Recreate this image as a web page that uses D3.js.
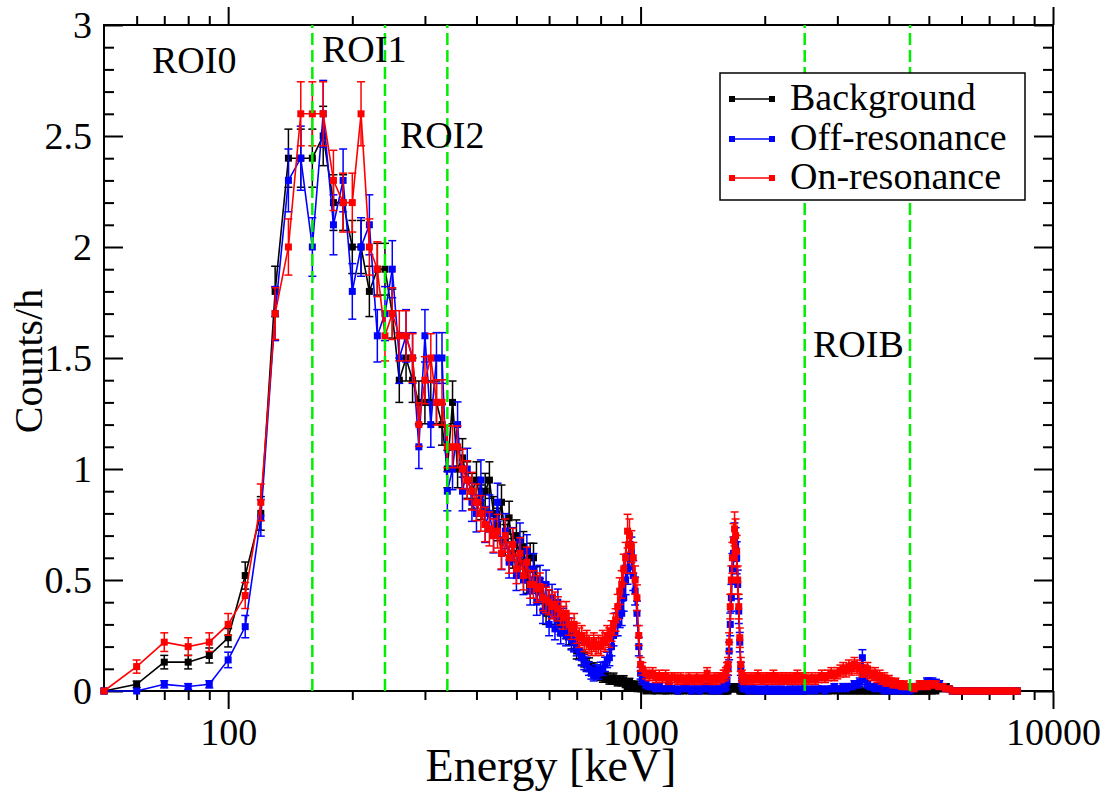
<!DOCTYPE html>
<html><head><meta charset="utf-8">
<script src="https://cdn.jsdelivr.net/npm/d3@7"></script>
<style>
body{margin:0;background:#fff}
text{font-family:"Liberation Serif","Times New Roman",serif;fill:#000}
</style>
</head><body>
<svg id="chart" width="1117" height="794"></svg>
<script>
// ---------- DATA ----------
// 10 keV bins from 50 to 1000 keV
const lowEnergies = d3.range(50, 1001, 10);
// coarser sampling above 1 MeV
const highEnergies = [
  ...d3.range(1010, 1600, 20),
  ...d3.range(1600, 1800, 10),
  ...d3.range(1800, 2500, 25),
  ...d3.range(2500, 5000, 50),
  ...d3.range(5000, 8201, 100)
];

const backgroundLow = [
  0, 0.03, 0.13, 0.13, 0.16, 0.24, 0.52, 0.8, 1.8, 2.4,
  2.4, 2.4, 2.5, 2.2, 2.2, 2.0, 2.0, 1.8, 1.9, 1.9,
  1.7, 1.4, 1.5, 1.4, 1.3, 1.3, 1.3, 1.3, 1.2, 1.0,
  1.3, 1.0, 1.05, 0.95, 0.9, 0.95, 0.85, 0.9, 0.95, 0.8,
  0.75, 0.85, 0.68, 0.78, 0.62, 0.7, 0.58, 0.65, 0.5, 0.6,
  0.6, 0.5, 0.45, 0.42, 0.35, 0.4, 0.38, 0.35, 0.32, 0.3,
  0.3, 0.28, 0.25, 0.23, 0.22, 0.18, 0.18, 0.15, 0.14, 0.12,
  0.12, 0.1, 0.1, 0.08, 0.08, 0.07, 0.06, 0.06, 0.06, 0.05,
  0.05, 0.06, 0.05, 0.04, 0.05, 0.04, 0.05, 0.03, 0.02, 0.04,
  0.03, 0.02, 0.03, 0.01, 0.02, 0.01
];
const offResonanceLow = [
  0, 0.0, 0.03, 0.02, 0.03, 0.14, 0.29, 0.78, 1.7, 2.3,
  2.4, 2.0, 2.6, 2.1, 2.3, 1.8, 2.0, 2.1, 1.6, 1.7,
  1.9, 1.5, 1.6, 1.5, 1.1, 1.6, 1.2, 1.5, 1.5, 0.9,
  1.0, 1.2, 0.9, 1.0, 0.85, 0.8, 0.95, 0.75, 0.8, 0.7,
  0.85, 0.62, 0.72, 0.58, 0.66, 0.52, 0.68, 0.5, 0.63, 0.45,
  0.55, 0.4, 0.5, 0.36, 0.48, 0.3, 0.42, 0.28, 0.4, 0.26,
  0.32, 0.25, 0.28, 0.23, 0.22, 0.2, 0.18, 0.15, 0.13, 0.12,
  0.1, 0.08, 0.07, 0.09, 0.08, 0.1, 0.1, 0.12, 0.14, 0.15,
  0.2, 0.25, 0.3, 0.3, 0.34, 0.35, 0.42, 0.5, 0.55, 0.6,
  0.62, 0.52, 0.45, 0.35, 0.2, 0.08
];
const onResonanceLow = [
  0, 0.11, 0.22, 0.2, 0.22, 0.3, 0.43, 0.85, 1.7, 2.0,
  2.6, 2.6, 2.6, 2.3, 2.2, 2.2, 2.6, 2.0, 1.9, 1.6,
  1.7, 1.6, 1.6, 1.5, 1.2, 1.4, 1.5, 1.3, 1.3, 1.1,
  1.1, 1.1, 1.0, 0.95, 0.9, 0.85, 0.8, 0.75, 0.73, 0.7,
  0.72, 0.62, 0.7, 0.6, 0.66, 0.55, 0.62, 0.52, 0.58, 0.48,
  0.48, 0.46, 0.47, 0.42, 0.41, 0.4, 0.38, 0.39, 0.37, 0.35,
  0.33, 0.35, 0.3, 0.28, 0.3, 0.26, 0.24, 0.25, 0.22, 0.23,
  0.21, 0.2, 0.22, 0.2, 0.21, 0.2, 0.23, 0.22, 0.25, 0.24,
  0.27, 0.3, 0.32, 0.38, 0.45, 0.48, 0.55, 0.6, 0.72, 0.7,
  0.65, 0.6, 0.5, 0.42, 0.25, 0.12
];

const backgroundHigh = [
  // 1010-1590
  0.01, 0.0, 0.01, 0.0, 0.0, 0.01, 0.0, 0.0, 0.0, 0.01,
  0.0, 0.0, 0.0, 0.0, 0.01, 0.0, 0.0, 0.0, 0.0, 0.0,
  0.0, 0.01, 0.0, 0.0, 0.0, 0.0, 0.0, 0.0, 0.0, 0.0,
  // 1600-1790
  0, 0, 0, 0, 0.01, 0.01, 0.01, 0.02, 0.01, 0.01,
  0.02, 0.01, 0.01, 0.01, 0, 0, 0, 0, 0, 0,
  // 1800-2475
  0, 0, 0, 0, 0, 0, 0, 0, 0, 0, 0, 0, 0, 0,
  0, 0, 0, 0, 0, 0, 0, 0, 0, 0, 0, 0, 0, 0,
  // 2500-4950
  0, 0, 0, 0, 0, 0, 0, 0, 0, 0.01, 0, 0, 0, 0, 0, 0, 0, 0, 0, 0, 0, 0, 0, 0, 0,
  0, 0, 0, 0, 0, 0, 0, 0, 0, 0, 0, 0, 0, 0, 0, 0, 0, 0, 0, 0, 0, 0, 0, 0, 0,
  // 5000-8200
  0, 0, 0, 0.01, 0.01, 0.02, 0.01, 0, 0, 0, 0, 0, 0, 0, 0, 0, 0,
  0, 0, 0, 0, 0, 0, 0, 0, 0, 0, 0, 0, 0, 0, 0, 0
];
const offResonanceHigh = [
  // 1010-1590
  0.05, 0.03, 0.02, 0.02, 0.01, 0.02, 0.01, 0.01, 0.02, 0.01,
  0.01, 0.0, 0.01, 0.01, 0.02, 0.01, 0.0, 0.01, 0.01, 0.0,
  0.01, 0.01, 0.02, 0.01, 0.0, 0.01, 0.01, 0.0, 0.01, 0.02,
  // 1600-1790
  0.01, 0.02, 0.05, 0.1, 0.18, 0.3, 0.42, 0.55, 0.62, 0.68,
  0.66, 0.6, 0.48, 0.36, 0.22, 0.1, 0.04, 0.02, 0.01, 0.01,
  // 1800-2475
  0.01, 0.0, 0.01, 0.01, 0.0, 0.01, 0.0, 0.0, 0.01, 0.0, 0.01, 0.0, 0.0, 0.01,
  0.0, 0.0, 0.01, 0.0, 0.0, 0.0, 0.01, 0.0, 0.0, 0.01, 0.0, 0.0, 0.01, 0.0,
  // 2500-4950
  0.01, 0.0, 0.01, 0.0, 0.01, 0.01, 0.0, 0.01, 0.01, 0.02, 0.01, 0.01, 0.02, 0.01, 0.02, 0.02,
  0.03, 0.03, 0.04, 0.15, 0.05, 0.03, 0.02, 0.02,
  0.01, 0.02, 0.01, 0.01, 0.0, 0.01, 0.01, 0.0, 0.01, 0.0, 0.01, 0.01, 0.0,
  0.01, 0.0, 0.01, 0.0, 0.01, 0.01, 0.02, 0.02, 0.02, 0.03, 0.03, 0.03, 0.04,
  // 5000-8200
  0.04, 0.04, 0.035, 0.03, 0.02, 0.01, 0.01, 0, 0, 0, 0, 0, 0, 0, 0, 0, 0,
  0, 0, 0, 0, 0, 0, 0, 0, 0, 0, 0, 0, 0, 0, 0, 0
];
const onResonanceHigh = [
  // 1010-1590
  0.1, 0.08, 0.07, 0.08, 0.06, 0.07, 0.06, 0.07, 0.05, 0.06,
  0.06, 0.05, 0.06, 0.05, 0.05, 0.06, 0.05, 0.05, 0.06, 0.05,
  0.05, 0.06, 0.08, 0.05, 0.05, 0.06, 0.05, 0.06, 0.06, 0.07,
  // 1600-1790
  0.07, 0.08, 0.1, 0.12, 0.22, 0.38, 0.5, 0.6, 0.68, 0.73,
  0.7, 0.63, 0.5, 0.38, 0.24, 0.12, 0.07, 0.06, 0.05, 0.05,
  // 1800-2475
  0.06, 0.05, 0.06, 0.05, 0.06, 0.07, 0.05, 0.06, 0.05, 0.06, 0.06, 0.05, 0.07, 0.05,
  0.06, 0.05, 0.06, 0.05, 0.06, 0.05, 0.06, 0.05, 0.06, 0.05, 0.07, 0.06, 0.05, 0.06,
  // 2500-4950
  0.06, 0.05, 0.06, 0.05, 0.06, 0.07, 0.06, 0.07, 0.08, 0.07,
  0.08, 0.09, 0.1, 0.09, 0.11, 0.1, 0.12, 0.11, 0.1, 0.09,
  0.09, 0.1, 0.08, 0.07, 0.08, 0.06, 0.07, 0.05, 0.06, 0.04,
  0.05, 0.04, 0.03, 0.04, 0.03, 0.03, 0.02, 0.03, 0.02, 0.02,
  0.02, 0.02, 0.01, 0.02, 0.02, 0.03, 0.02, 0.03, 0.03, 0.02,
  // 5000-8200
  0.03, 0.03, 0.03, 0.02, 0.02, 0.01, 0.01, 0, 0, 0, 0, 0, 0, 0, 0, 0, 0,
  0, 0, 0, 0, 0, 0, 0, 0, 0, 0, 0, 0, 0, 0, 0, 0
];

// live times (h) used to turn counts/h into Poisson error bars
const liveHours = [140, 115, 125];

const seriesNames = ["Background", "Off-resonance", "On-resonance"];
const seriesColors = ["#000000", "#0000ff", "#ff0000"];

const roiEdges = [160, 240, 340, 2500, 4500];
const roiNames = ["ROI0", "ROI1", "ROI2", "ROIB"];

const xMajorTicks = [100, 1000, 10000];
const xMinorTicks = [60, 70, 80, 90, 200, 300, 400, 500, 600, 700, 800, 900,
                     2000, 3000, 4000, 5000, 6000, 7000, 8000, 9000];
const yMajorTicks = [0, 0.5, 1, 1.5, 2, 2.5, 3];
const yMinorTicks = [0.1,0.2,0.3,0.4,0.6,0.7,0.8,0.9,1.1,1.2,1.3,1.4,1.6,1.7,1.8,1.9,
                     2.1,2.2,2.3,2.4,2.6,2.7,2.8,2.9];

// ---------- CHART ----------
const svg = d3.select("#chart");
const L = 104, R = 1053, T = 25, B = 691;
const x = d3.scaleLog().domain([50, 10000]).range([L, R]);
const y = d3.scaleLinear().domain([0, 3]).range([B, T]);

const energies = lowEnergies.concat(highEnergies);
const seriesValues = [
  backgroundLow.concat(backgroundHigh),
  offResonanceLow.concat(offResonanceHigh),
  onResonanceLow.concat(onResonanceHigh)
];

// axes
function styleAxis(g){ g.select(".domain").remove(); g.selectAll("line").attr("stroke","#000").attr("stroke-width",2); }
svg.append("g").attr("transform",`translate(0,${B})`)
  .call(d3.axisBottom(x).tickValues(xMinorTicks).tickSize(9).tickFormat(""))
  .call(styleAxis);
svg.append("g").attr("transform",`translate(0,${B})`)
  .call(d3.axisBottom(x).tickValues(xMajorTicks).tickSize(18).tickPadding(9).tickFormat(d3.format("d")))
  .call(styleAxis)
  .selectAll("text").attr("font-size",38).attr("font-family","Liberation Serif");
svg.append("g").attr("transform",`translate(0,${T})`)
  .call(d3.axisTop(x).tickValues(xMinorTicks).tickSize(9).tickFormat(""))
  .call(styleAxis);
svg.append("g").attr("transform",`translate(0,${T})`)
  .call(d3.axisTop(x).tickValues(xMajorTicks).tickSize(18).tickFormat(""))
  .call(styleAxis);
svg.append("g").attr("transform",`translate(${L},0)`)
  .call(d3.axisLeft(y).tickValues(yMinorTicks).tickSize(-10).tickFormat(""))
  .call(styleAxis);
svg.append("g").attr("transform",`translate(${L},0)`)
  .call(d3.axisLeft(y).tickValues(yMajorTicks).tickSize(-19).tickPadding(12).tickFormat(d3.format("")))
  .call(styleAxis)
  .selectAll("text").attr("font-size",38).attr("font-family","Liberation Serif");
svg.append("g").attr("transform",`translate(${R},0)`)
  .call(d3.axisRight(y).tickValues(yMinorTicks).tickSize(-10).tickFormat(""))
  .call(styleAxis);
svg.append("g").attr("transform",`translate(${R},0)`)
  .call(d3.axisRight(y).tickValues(yMajorTicks).tickSize(-19).tickFormat(""))
  .call(styleAxis);

// frame
svg.append("rect").attr("x",L).attr("y",T).attr("width",R-L).attr("height",B-T)
  .attr("fill","none").attr("stroke","#000").attr("stroke-width",2);

// series
const line = d3.line().x(d=>x(d.e)).y(d=>y(d.v));
seriesValues.forEach((vals, si) => {
  const pts = energies.map((e,i)=>({e, v: vals[i], err: Math.sqrt(vals[i]/liveHours[si])}));
  const col = seriesColors[si];
  const g = svg.append("g");
  g.append("path").datum(pts).attr("d", line).attr("fill","none")
    .attr("stroke", col).attr("stroke-width", 1.6);
  const eb = g.selectAll(".eb").data(pts.filter(d=>d.err>0)).enter().append("g");
  eb.append("line").attr("x1",d=>x(d.e)).attr("x2",d=>x(d.e))
    .attr("y1",d=>y(d.v-d.err)).attr("y2",d=>y(d.v+d.err))
    .attr("stroke",col).attr("stroke-width",1.5);
  [1,-1].forEach(s=>{
    eb.append("line").attr("x1",d=>x(d.e)-4).attr("x2",d=>x(d.e)+4)
      .attr("y1",d=>y(d.v+s*d.err)).attr("y2",d=>y(d.v+s*d.err))
      .attr("stroke",col).attr("stroke-width",1.5);
  });
  g.selectAll(".mk").data(pts).enter().append("rect")
    .attr("x",d=>x(d.e)-3.5).attr("y",d=>y(d.v)-3.5)
    .attr("width",7).attr("height",7).attr("fill",col);
});

// ROI dashed lines
svg.selectAll(".roi").data(roiEdges).enter().append("line")
  .attr("x1",d=>x(d)).attr("x2",d=>x(d)).attr("y1",B).attr("y2",T)
  .attr("stroke","#00ee00").attr("stroke-width",2.5).attr("stroke-dasharray","12,5");

// ROI labels
const roiPos = [[152,73],[322,62],[400,148],[813,357]];
svg.selectAll(".roit").data(roiNames).enter().append("text")
  .attr("x",(d,i)=>roiPos[i][0]).attr("y",(d,i)=>roiPos[i][1])
  .attr("font-size",38).text(d=>d);

// axis titles
svg.append("text").attr("x",551).attr("y",781).attr("text-anchor","middle")
  .attr("font-size",46).text("Energy [keV]");
svg.append("text").attr("transform","translate(42,361) rotate(-90)")
  .attr("text-anchor","middle").attr("font-size",40).text("Counts/h");

// legend
const lg = svg.append("g");
lg.append("rect").attr("x",720).attr("y",73).attr("width",305).attr("height",127)
  .attr("fill","#fff").attr("stroke","#000").attr("stroke-width",1.5);
const lgY = [99, 139, 178];
seriesNames.forEach((n,i)=>{
  lg.append("line").attr("x1",732).attr("x2",772).attr("y1",lgY[i]).attr("y2",lgY[i])
    .attr("stroke",seriesColors[i]).attr("stroke-width",1.6);
  [732,772].forEach(px=>lg.append("rect").attr("x",px-3).attr("y",lgY[i]-3)
    .attr("width",6).attr("height",6).attr("fill",seriesColors[i]));
  lg.append("text").attr("x",790).attr("y",lgY[i]+11).attr("font-size",38).text(n);
});
</script>
</body></html>
